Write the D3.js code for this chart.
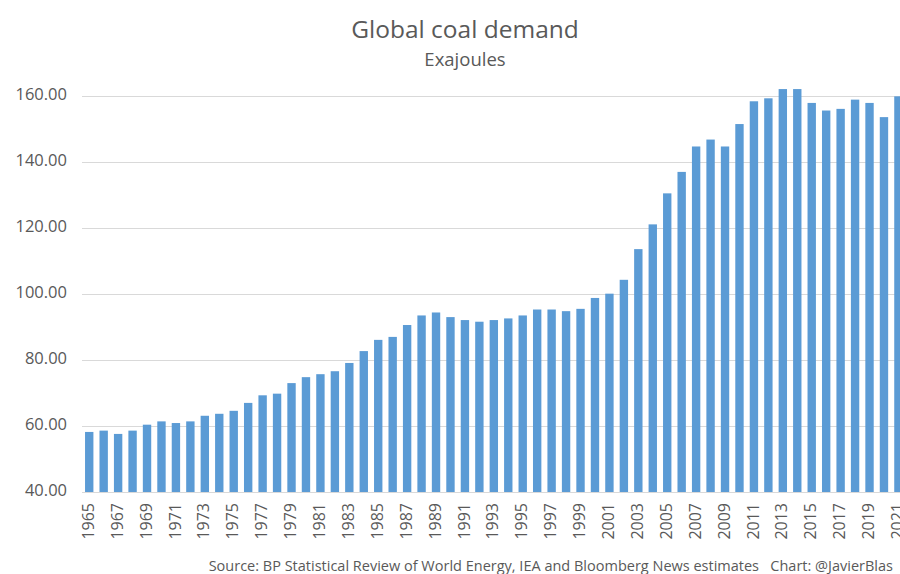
<!DOCTYPE html>
<html>
<head>
<meta charset="utf-8">
<script src="https://cdn.jsdelivr.net/npm/d3@7"></script>
<style>
	html, body { margin: 0; padding: 0; background: #fff; overflow: hidden; }
	text { font-family: "Open Sans", Lato, sans-serif; fill: #595959; }
</style>
</head>
<body>
<div id="chart"></div>
<script>
"use strict";

const width = 900, height = 574;

//  Data (exajoules)
const years = d3.range(1965, 2022);
const demand = [
	58.2, 58.6, 57.6, 58.6, 60.4, 61.4, 60.9, 61.4, 63.1, 63.7,
	64.6, 67.0, 69.3, 69.8, 73.0, 74.8, 75.7, 76.6, 79.1, 82.7,
	86.1, 87.0, 90.6, 93.5, 94.4, 93.0, 92.1, 91.6, 92.1, 92.6,
	93.5, 95.3, 95.3, 94.8, 95.5, 98.8, 100.1, 104.3, 113.6, 121.1,
	130.5, 137.0, 144.7, 146.8, 144.7, 151.5, 158.4, 159.3, 162.1, 162.1,
	157.9, 155.6, 156.1, 158.9, 157.9, 153.6, 159.9
];
const yTicks = [40, 60, 80, 100, 120, 140, 160];
const xTickYears = years.filter(y => (y - 1965) % 2 === 0);

const titleText = 'Global coal demand';
const subtitleText = 'Exajoules';
const sourceText = 'Source: BP Statistical Review of World Energy, IEA and Bloomberg News estimates\u00a0\u00a0\u00a0Chart: @JavierBlas';

const rows = years.map((year, i) => ({ year: year, value: demand[i] }));

//  Scales
const step = 14.45;
const x = d3.scaleBand()
	.domain(years)
	.range([82, 82 + step * years.length])
	.paddingInner(0.42)
	.paddingOuter(0.21);

const y = d3.scaleLinear()
	.domain([40, 160])
	.range([492, 96]);

const svg = d3.select('#chart').append('svg')
	.attr('width', width)
	.attr('height', height);

//  Grid
svg.append('g')
	.selectAll('line')
	.data(yTicks)
	.join('line')
		.attr('x1', 82)
		.attr('x2', width)
		.attr('y1', d => y(d) + 0.5)
		.attr('y2', d => y(d) + 0.5)
		.attr('stroke', '#d9d9d9')
		.attr('stroke-width', 1);

//  Y axis labels
const yAxis = d3.axisLeft(y)
	.tickValues(yTicks)
	.tickFormat(d3.format('.2f'))
	.tickSize(0)
	.tickPadding(0);

svg.append('g')
	.attr('transform', 'translate(67,-2)')
	.call(yAxis)
	.call(g => g.select('.domain').remove())
	.call(g => g.selectAll('text')
		.style('font-size', '16.5px')
		.attr('fill', '#595959'));

//  Bars
svg.append('g')
	.selectAll('rect')
	.data(rows)
	.join('rect')
		.attr('x', d => x(d.year))
		.attr('width', x.bandwidth())
		.attr('y', d => y(d.value))
		.attr('height', d => y(40) - y(d.value))
		.attr('fill', '#5b9bd5');

//  X axis labels
const xAxis = d3.axisBottom(x)
	.tickValues(xTickYears)
	.tickSize(0)
	.tickPadding(0);

svg.append('g')
	.attr('transform', 'translate(-1,503)')
	.call(xAxis)
	.call(g => g.select('.domain').remove())
	.call(g => g.selectAll('text')
		.attr('transform', 'rotate(-90)')
		.attr('x', 0)
		.attr('y', 0)
		.attr('dy', '0.35em')
		.attr('text-anchor', 'end')
		.style('font-size', '16px')
		.attr('fill', '#595959'));

//  Titles
svg.append('text')
	.attr('x', 465)
	.attr('y', 38)
	.attr('text-anchor', 'middle')
	.style('font-size', '24.5px')
	.text(titleText);

svg.append('text')
	.attr('x', 465)
	.attr('y', 66)
	.attr('text-anchor', 'middle')
	.style('font-size', '18.5px')
	.text(subtitleText);

svg.append('text')
	.attr('x', 893)
	.attr('y', 571)
	.attr('text-anchor', 'end')
	.style('font-size', '14.5px')
	.text(sourceText);
</script>
</body>
</html>
